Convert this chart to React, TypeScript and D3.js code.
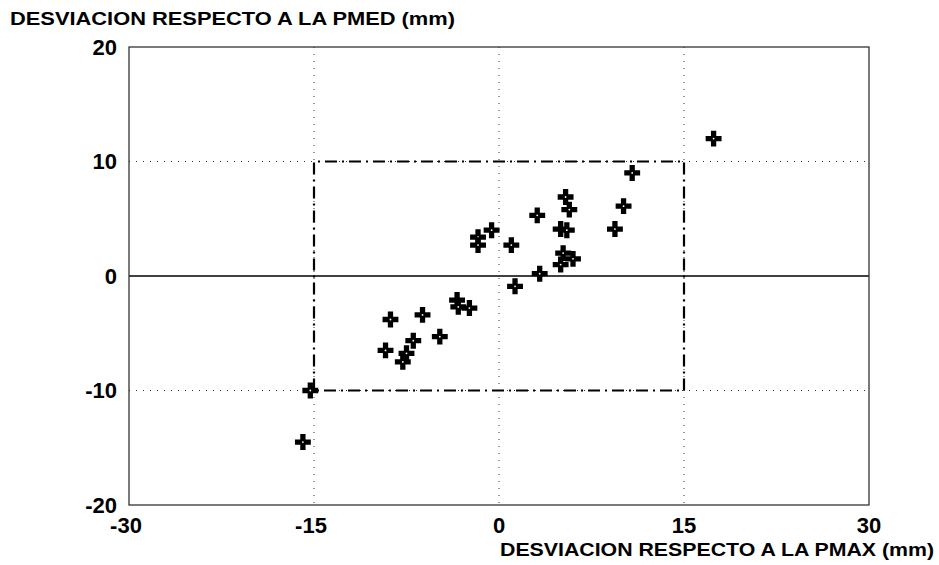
import React from "react";
import * as d3 from "d3";

const xTicks = [-30, -15, 0, 15, 30];
const yTicks = [20, 10, 0, -10, -20];
const xGrid = [-15, 0, 15];
const yGrid = [10, -10];
const boxX = [-15, 15];
const boxY = [-10, 10];

const xs = [17.4, 10.8, 5.4, 5.7, 3.1, 10.1, 5.0, 5.5, 9.4, 1.0, -0.6, -1.7, -1.7, 5.2, 6.0, 5.0, 3.3, 1.3, -3.4, -3.3, -2.4, -4.8, -6.2, -8.8, -9.2, -6.95, -7.5, -7.8, -15.3, -15.9];
const ys = [12.0, 9.0, 6.9, 5.8, 5.3, 6.1, 4.1, 4.0, 4.1, 2.7, 4.0, 3.4, 2.7, 2.0, 1.5, 1.0, 0.2, -0.9, -2.1, -2.7, -2.8, -5.3, -3.4, -3.8, -6.5, -5.65, -6.75, -7.5, -10.0, -14.5];

const yTitle = "DESVIACION RESPECTO A LA PMED (mm)";
const xTitle = "DESVIACION RESPECTO A LA PMAX (mm)";

const W = 939, H = 565;
const L = 129, R = 869, T = 47, B = 505;

export default function App() {
  const x = d3.scaleLinear().domain([-30, 30]).range([L, R]);
  const y = d3.scaleLinear().domain([-20, 20]).range([B, T]);
  const cross = d3.symbol().type(d3.symbolCross).size(140)();
  const font = "'Liberation Sans', Arial, sans-serif";
  const boxPath = `M${x(boxX[0])},${y(boxY[0])}L${x(boxX[0])},${y(boxY[1])}L${x(boxX[1])},${y(boxY[1])}L${x(boxX[1])},${y(boxY[0])}Z`;
  return (
    <svg width={W} height={H} style={{ position: "absolute", left: 0, top: 0, background: "#fff" }}>
      <rect x={0} y={0} width={W} height={H} fill="#fff" />
      {xGrid.map((v) => (
        <line key={"gx" + v} x1={x(v)} x2={x(v)} y1={T} y2={B} stroke="#333" strokeWidth={1} strokeDasharray="1 6" />
      ))}
      {yGrid.map((v) => (
        <line key={"gy" + v} x1={L} x2={R} y1={y(v)} y2={y(v)} stroke="#333" strokeWidth={1} strokeDasharray="1 6" />
      ))}
      <line x1={L} x2={R} y1={y(0)} y2={y(0)} stroke="#000" strokeWidth={1.6} />
      <rect x={L} y={T} width={R - L} height={B - T} fill="none" stroke="#333" strokeWidth={1.3} />
      <path d={boxPath} fill="none" stroke="#000" strokeWidth={2.2} strokeDasharray="12 5 2 5" />
      {xs.map((v, i) => (
        <g key={"p" + i} transform={`translate(${x(v)},${y(ys[i])})`}>
          <path d={cross} fill="#000" />
          <circle r={0.9} fill="#fff" />
        </g>
      ))}
      {yTicks.map((v) => (
        <text key={"yt" + v} x={117} y={y(v)} dy="0.36em" textAnchor="end" fontFamily={font} fontWeight="bold" fontSize={22} fill="#000">
          {v}
        </text>
      ))}
      {xTicks.map((v) => (
        <text key={"xt" + v} x={x(v) - (v < 0 ? 3 : 0)} y={533} textAnchor="middle" fontFamily={font} fontWeight="bold" fontSize={22} fill="#000">
          {v}
        </text>
      ))}
      <text x={10} y={25} fontFamily={font} fontWeight="bold" fontSize={18} fill="#000" textLength={445} lengthAdjust="spacingAndGlyphs">
        {yTitle}
      </text>
      <text x={500} y={556} fontFamily={font} fontWeight="bold" fontSize={18} fill="#000" textLength={434} lengthAdjust="spacingAndGlyphs">
        {xTitle}
      </text>
    </svg>
  );
}
